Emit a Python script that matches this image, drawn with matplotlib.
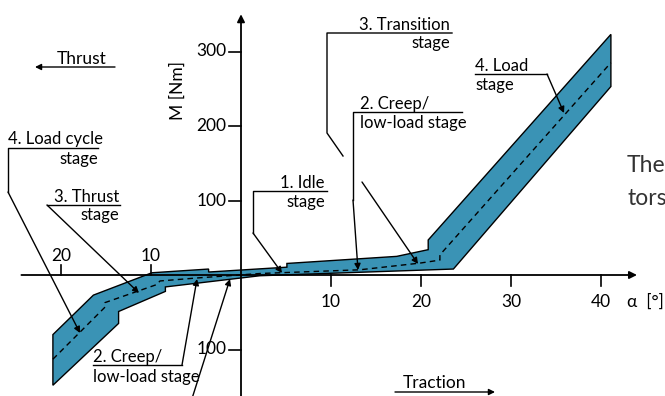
import numpy as np
import matplotlib.pyplot as plt
import matplotlib.transforms as mtransforms

plt.rcParams['font.family'] = ['Lato', 'DejaVu Sans']

# torque band, alpha [deg] vs M [Nm]
alpha_upper = [-20.9, -16.4, -9.9, -3.6, -3.6, 5.1, 5.1, 17.3, 20.8, 20.8, 41.1]
m_upper = [-80, -27, 3, 8, 4, 10.5, 15.5, 25, 34, 47, 323]
alpha_lower = [-20.9, -13.6, -13.6, -8.4, -8.4, 2.1, 23.6, 41.1]
m_lower = [-148, -65, -49, -22, -16, -1, 8, 253]
alpha_mid = [-20.9, -15.1, -15.1, -9.4, -9.0, -4.9, 2.1, 13.2, 19.9, 22.1, 22.1, 41.1]
m_mid = [-113, -43, -37, -13, -8, -4, 2, 7, 16, 20, 27, 285]

xticks_pos = [10, 20, 30, 40]
xticks_neg = [-10, -20]
yticks_pos = [100, 200, 300]
yticks_neg = [-100]

band_color = '#3a93b5'
fs = 12
fs_tick = 12.5

fig = plt.figure(figsize=(6.65, 3.96), dpi=100)
ax = fig.add_axes([0, 0, 1, 1])
ax.set_axis_off()
ax.set_autoscale_on(False)
ax.set_xlim(-241 / 9, (665 - 241) / 9)
ax.set_ylim((275 - 396) / 0.745, 275 / 0.745)

# band
poly_x = np.concatenate([alpha_upper, alpha_lower[::-1]])
poly_y = np.concatenate([m_upper, m_lower[::-1]])
ax.fill(poly_x, poly_y, facecolor=band_color, edgecolor='k', lw=1.0, zorder=2)
ax.plot(alpha_mid, m_mid, color='k', lw=1.0, ls=(0, (4, 3)), zorder=3)

# axes with arrows
arr = dict(arrowstyle='-|>', color='k', lw=1.3, mutation_scale=11, shrinkA=0, shrinkB=0)
ax.annotate('', xy=(44.0, 0), xytext=(-24.4, 0), arrowprops=arr, zorder=4)
ax.annotate('', xy=(0, 350), xytext=(0, -175), arrowprops=arr, zorder=4)

for v in xticks_pos:
    ax.plot([v, v], [0, -15], color='k', lw=1.2)
    ax.text(v, -36, str(v), ha='center', va='center', fontsize=fs_tick)
for v in xticks_neg:
    ax.plot([v, v], [0, 13.5], color='k', lw=1.2)
    ax.text(v, 25, str(abs(v)), ha='center', va='center', fontsize=fs_tick)
for v in yticks_pos + yticks_neg:
    ax.plot([0, -1.3], [v, v], color='k', lw=1.2)
    ax.text(-1.65, v, str(abs(v)), ha='right', va='center', fontsize=fs_tick)

ax.text(-7.0, 248, 'M [Nm]', rotation=90, ha='center', va='center', fontsize=fs_tick)
ax.text(42.9, -36, 'α  [°]', ha='left', va='center', fontsize=fs_tick)

# annotations laid out in pixel space (y from top)
pix = mtransforms.Affine2D().scale(1, -1).translate(0, 396)
head = dict(arrowstyle='-|>', color='k', lw=1.0, mutation_scale=9, shrinkA=0, shrinkB=0)


def txt(x, y, s, ha='left', size=fs):
    ax.text(x, y, s, ha=ha, va='baseline', fontsize=size, transform=pix)


def leader(pts, tip=None):
    xs, ys = zip(*pts)
    ax.plot(xs, ys, color='k', lw=1.0, transform=pix, zorder=5)
    if tip is not None:
        ax.annotate('', xy=tip, xytext=pts[-1], xycoords=pix, textcoords=pix,
                    arrowprops=head, zorder=5)


# direction arrows
ax.annotate('', xy=(35, 67), xytext=(115, 67), xycoords=pix, textcoords=pix, arrowprops=head)
txt(57, 64, 'Thrust', size=fs_tick)
ax.annotate('', xy=(495, 392), xytext=(395, 392), xycoords=pix, textcoords=pix, arrowprops=head)
txt(403, 388, 'Traction', size=fs_tick)

# 4. Load cycle stage
txt(8, 144, '4. Load cycle')
txt(98, 164, 'stage', ha='right')
leader([(98, 148), (8, 148), (8, 192)], tip=(80, 333))

# 3. Thrust stage
txt(119, 202, '3. Thrust', ha='right')
txt(119, 220, 'stage', ha='right')
leader([(120, 205), (47, 205)], tip=(139, 293))

# 2. Creep (thrust side)
txt(93, 362, '2. Creep/')
txt(93, 382, 'low-load stage')
leader([(93, 365), (182, 365)], tip=(197, 279))
leader([(189, 408)], tip=(230, 279))

# 1. Idle stage
txt(325, 188, '1. Idle', ha='right')
txt(325, 207, 'stage', ha='right')
leader([(327, 191), (253, 191), (253, 233)], tip=(282, 273))

# 3. Transition stage (line broken where it crosses the creep leader)
txt(450, 30, '3. Transition', ha='right')
txt(450, 48, 'stage', ha='right')
leader([(452, 33), (327, 33), (327, 133), (343, 156)])
leader([(362, 182)], tip=(418, 264))

# 2. Creep (traction side)
txt(360, 109, '2. Creep/')
txt(360, 128, 'low-load stage')
leader([(462, 112), (353, 112), (353, 200)], tip=(358, 270))

# 4. Load stage
txt(475, 71, '4. Load')
txt(475, 90, 'stage')
leader([(475, 74), (547, 74)], tip=(564, 113))

# page text cut off at the right edge
ax.text(627, 172, 'The', fontsize=16.5, color='#333333', ha='left', va='baseline', transform=pix)
ax.text(627, 205, 'tors', fontsize=16.5, color='#333333', ha='left', va='baseline', transform=pix)

plt.savefig('out.png', dpi=100)
